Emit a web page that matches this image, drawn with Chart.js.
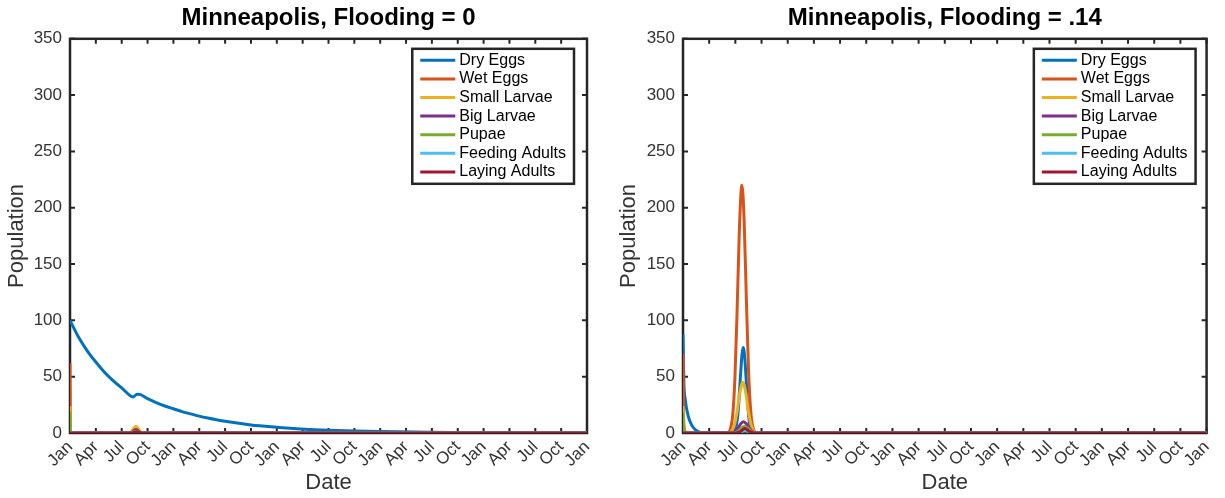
<!DOCTYPE html>
<html>
<head>
<meta charset="utf-8">
<script src="https://cdn.jsdelivr.net/npm/chart.js@4.4.0/dist/chart.umd.min.js"></script>
<style>
  html, body { margin: 0; padding: 0; background: #fff; }
  .panel { position: absolute; top: 0; height: 498px; }
  #left { left: 0; width: 612px; }
  #right { left: 612px; width: 613px; }
</style>
</head>
<body>
<div class="panel" id="left"><canvas id="chartLeft"></canvas></div>
<div class="panel" id="right"><canvas id="chartRight"></canvas></div>
<script>
// Axes : mois depuis janvier de la 1re année (0 -> 60), graduations tous les 3 mois
const xTickLabels = ['Jan', 'Apr', 'Jul', 'Oct', 'Jan', 'Apr', 'Jul', 'Oct', 'Jan', 'Apr', 'Jul',
                     'Oct', 'Jan', 'Apr', 'Jul', 'Oct', 'Jan', 'Apr', 'Jul', 'Oct', 'Jan'];
const seriesNames = ['Dry Eggs', 'Wet Eggs', 'Small Larvae', 'Big Larvae', 'Pupae', 'Feeding Adults', 'Laying Adults'];
const seriesColors = ['#0072BD', '#D95319', '#EDB120', '#7E2F8E', '#77AC30', '#4DBEEE', '#A2142F'];

// Flooding = 0 : [mois, population]
const leftDryEggs = [[0, 100], [1, 85], [2, 73], [3, 63], [4, 54], [5, 46.5], [6, 40], [7, 33], [7.3, 32],
  [7.8, 34.5], [8.2, 34], [9, 30.5], [10, 27], [11, 24], [12, 21.5], [13, 19], [14, 17], [15, 15],
  [16, 13.3], [17, 11.8], [18, 10.5], [19, 9.3], [20, 8.2], [21, 7.2], [22, 6.4], [23, 5.7], [24, 5],
  [26, 4], [28, 3.1], [30, 2.5], [33, 1.8], [36, 1.3], [40, 0.8], [44, 0.5], [48, 0.3], [54, 0.15], [60, 0.1]];
const leftWetEggs = [[0, 62], [0.06, 0], [7, 0], [7.6, 2], [8.3, 0], [60, 0]];
const leftSmallLarvae = [[0, 24], [0.06, 0], [6.9, 0], [7.3, 3], [7.65, 6], [8.0, 3], [8.4, 0], [60, 0]];
const leftBigLarvae = [[0, 0], [7, 0], [7.65, 3], [8.3, 0], [60, 0]];
const leftPupae = [[0, 19], [0.06, 0], [7.1, 0], [7.7, 1.5], [8.3, 0], [60, 0]];
const leftFeedingAdults = [[0, 0], [7.2, 0], [7.7, 0.5], [8.2, 0], [60, 0]];
const leftLayingAdults = [[0, 0], [7.2, 0], [7.75, 1], [8.3, 0], [60, 0]];

// Flooding = .14
const rightDryEggs = [[0, 88], [0.1, 45], [0.25, 30], [0.6, 15], [1, 7], [1.4, 3], [2, 0.5], [2.8, 0], [5.7, 0],
  [6, 2.8], [6.3, 17.5], [6.55, 46], [6.75, 69], [6.9, 76], [7.1, 64.5], [7.35, 33], [7.6, 10], [7.9, 1.3],
  [8.2, 0], [60, 0]];
const rightWetEggs = [[0, 70], [0.08, 10], [0.3, 1], [0.6, 0], [5.1, 0], [5.4, 3], [5.7, 16], [5.95, 49],
  [6.2, 108], [6.45, 178], [6.75, 220], [7, 190], [7.25, 122], [7.5, 58], [7.8, 16], [8.1, 3], [8.5, 0], [60, 0]];
const rightSmallLarvae = [[0, 24], [0.08, 5], [0.3, 0], [5.3, 0], [5.6, 2], [5.9, 7.4], [6.2, 19], [6.5, 35],
  [6.85, 45], [7.2, 35], [7.5, 19], [7.8, 7.4], [8.1, 2], [8.5, 0], [60, 0]];
const rightBigLarvae = [[0, 0], [5.5, 0], [5.9, 1.1], [6.3, 4.3], [6.65, 8.4], [6.95, 10], [7.3, 7.8],
  [7.65, 3.8], [8, 1.1], [8.4, 0], [60, 0]];
const rightPupae = [[0, 18], [0.08, 3], [0.3, 0], [5.8, 0], [6.3, 1.5], [6.7, 4.5], [7.05, 6], [7.4, 4.5],
  [7.8, 1.5], [8.3, 0], [60, 0]];
const rightFeedingAdults = [[0, 0], [6, 0], [6.6, 1], [7.1, 2], [7.6, 1], [8.2, 0], [60, 0]];
const rightLayingAdults = [[0, 0], [6, 0], [6.5, 1], [7.1, 4], [7.6, 1.5], [8.2, 0], [60, 0]];

const FONT = '"Liberation Sans", Arial, Helvetica, sans-serif';
const AXIS_COLOR = '#262626';

// cadre + graduations vers l'intérieur (style MATLAB)
const axesBox = {
  id: 'axesBox',
  beforeDatasetsDraw(chart) {
    const { ctx, chartArea: a, scales: { x, y } } = chart;
    const len = 5;
    ctx.save();
    ctx.strokeStyle = AXIS_COLOR;
    ctx.lineWidth = 2;
    ctx.beginPath();
    x.ticks.forEach(t => {
      const px = x.getPixelForValue(t.value);
      ctx.moveTo(px, a.bottom); ctx.lineTo(px, a.bottom - len);
      ctx.moveTo(px, a.top); ctx.lineTo(px, a.top + len);
    });
    y.ticks.forEach(t => {
      const py = y.getPixelForValue(t.value);
      ctx.moveTo(a.left, py); ctx.lineTo(a.left + len, py);
      ctx.moveTo(a.right, py); ctx.lineTo(a.right - len, py);
    });
    ctx.stroke();
    ctx.lineWidth = 2.5;
    ctx.strokeRect(a.left, a.top, a.right - a.left, a.bottom - a.top);
    ctx.restore();
  }
};

// légende encadrée en haut à droite
const boxLegend = {
  id: 'boxLegend',
  afterDraw(chart, args, opts) {
    const { ctx, chartArea: a } = chart;
    const sets = chart.data.datasets;
    ctx.save();
    ctx.font = '16px ' + FONT;
    const textW = Math.max(...sets.map(d => ctx.measureText(d.label).width));
    const rowH = 18.6;
    const w = 47 + textW + 8;
    const h = 135;
    const right = a.right - opts.offsetRight;
    const left = right - w;
    const top = a.top + opts.offsetTop;
    ctx.fillStyle = '#fff';
    ctx.fillRect(left, top, w, h);
    sets.forEach((d, i) => {
      const cy = top + 11.5 + i * rowH;
      ctx.strokeStyle = d.borderColor;
      ctx.lineWidth = 3;
      ctx.beginPath();
      ctx.moveTo(left + 8, cy);
      ctx.lineTo(left + 43, cy);
      ctx.stroke();
      ctx.fillStyle = '#000';
      ctx.textBaseline = 'middle';
      ctx.textAlign = 'left';
      ctx.fillText(d.label, left + 47, cy);
    });
    ctx.strokeStyle = AXIS_COLOR;
    ctx.lineWidth = 2.5;
    ctx.strokeRect(left, top, w, h);
    ctx.restore();
  }
};

function makeChart(canvasId, titre, seriesList, yWidth, padRight, legendRight) {
  return new Chart(document.getElementById(canvasId), {
    type: 'line',
    data: {
      datasets: seriesList.map((pts, i) => ({
        label: seriesNames[i],
        data: pts.map(p => ({ x: p[0], y: p[1] })),
        borderColor: seriesColors[i],
        borderWidth: 3,
        pointRadius: 0,
        cubicInterpolationMode: 'monotone',
        fill: false,
        order: seriesList.length - 1 - i
      }))
    },
    options: {
      responsive: true,
      maintainAspectRatio: false,
      animation: false,
      layout: { padding: { left: 0, right: padRight, top: 0, bottom: 0 } },
      plugins: {
        legend: { display: false },
        tooltip: { enabled: false },
        title: {
          display: true,
          fullSize: false,
          text: titre,
          color: '#000',
          font: { family: FONT, size: 24, weight: 'bold' },
          padding: { top: 4, bottom: 6 }
        },
        boxLegend: { offsetRight: legendRight, offsetTop: 10 }
      },
      scales: {
        x: {
          type: 'linear',
          min: 0,
          max: 60,
          afterFit(s) { s.height = 65; },
          grid: { display: false, drawTicks: false },
          border: { display: false },
          ticks: {
            stepSize: 3,
            autoSkip: false,
            maxRotation: 45,
            minRotation: 45,
            padding: 4,
            color: '#333',
            font: { family: FONT, size: 17 },
            callback: v => xTickLabels[Math.round(v / 3)]
          },
          title: {
            display: true,
            text: 'Date',
            color: '#333',
            font: { family: FONT, size: 22 },
            padding: { top: 0, bottom: 2 }
          }
        },
        y: {
          min: 0,
          max: 350,
          afterFit(s) { s.width = yWidth; },
          grid: { display: false, drawTicks: false },
          border: { display: false },
          ticks: {
            stepSize: 50,
            padding: 8,
            color: '#333',
            font: { family: FONT, size: 17 }
          },
          title: {
            display: true,
            text: 'Population',
            color: '#333',
            font: { family: FONT, size: 22 },
            padding: { top: 4, bottom: 0 }
          }
        }
      }
    },
    plugins: [axesBox, boxLegend]
  });
}

document.addEventListener('DOMContentLoaded', function() {
  makeChart('chartLeft', 'Minneapolis, Flooding = 0',
    [leftDryEggs, leftWetEggs, leftSmallLarvae, leftBigLarvae, leftPupae, leftFeedingAdults, leftLayingAdults],
    70, 25, 13);
  makeChart('chartRight', 'Minneapolis, Flooding = .14',
    [rightDryEggs, rightWetEggs, rightSmallLarvae, rightBigLarvae, rightPupae, rightFeedingAdults, rightLayingAdults],
    71, 16, 11);
});
</script>
</body>
</html>
